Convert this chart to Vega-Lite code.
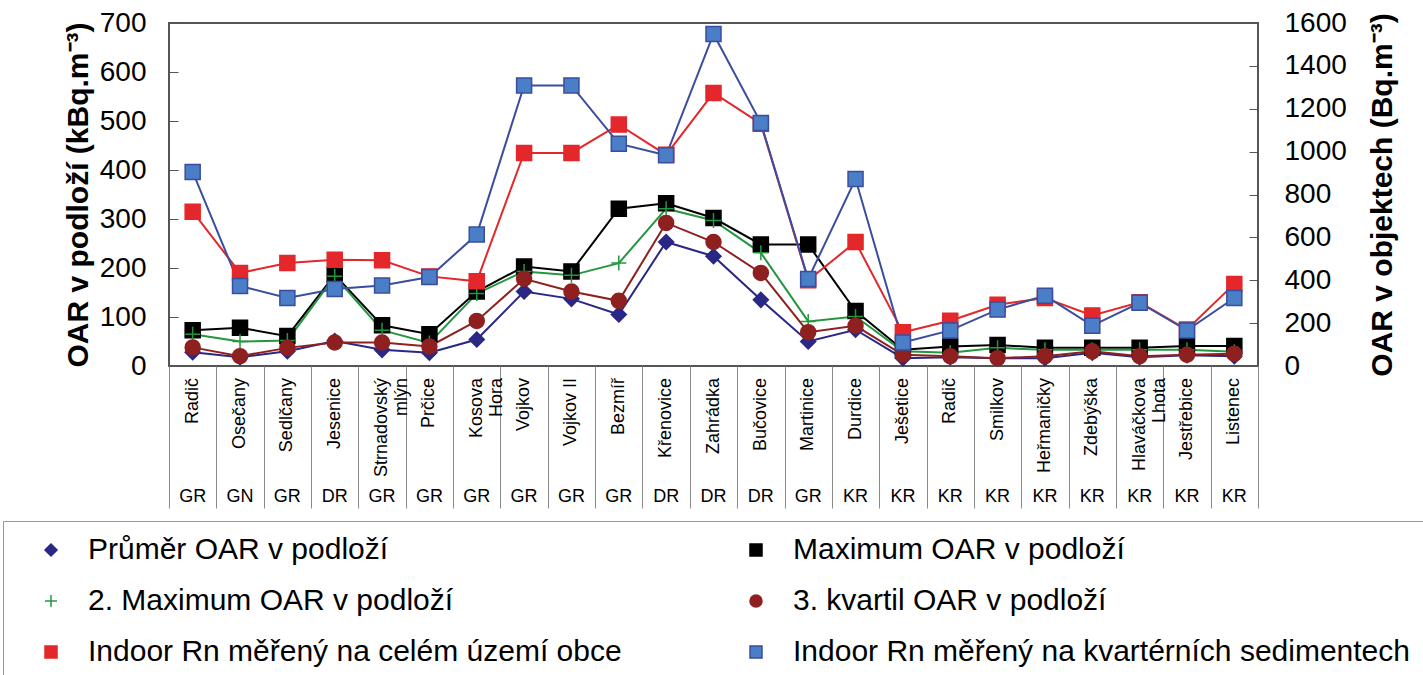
{
  "$schema": "https://vega.github.io/schema/vega-lite/v6.json",
  "background": "white",
  "padding": {"left": 2, "top": 8, "right": 2, "bottom": 0},
  "config": {
    "font": "Liberation Sans",
    "view": {"stroke": null},
    "axis": {"labelColor": "#000", "titleColor": "#000"},
    "legend": {"layout": {"bottom": {"anchor": "middle"}}}
  },
  "datasets": {
    "obce": [
      {"poradi": 1, "obec": "Radič", "hornina": "GR", "Průměr OAR v podloží": 28, "Maximum OAR v podloží": 73, "2. Maximum OAR v podloží": 65, "3. kvartil OAR v podloží": 38, "Indoor Rn měřený na celém území obce": 720, "Indoor Rn měřený na kvartérních sedimentech": 905},
      {"poradi": 2, "obec": "Osečany", "hornina": "GN", "Průměr OAR v podloží": 18, "Maximum OAR v podloží": 78, "2. Maximum OAR v podloží": 50, "3. kvartil OAR v podloží": 20, "Indoor Rn měřený na celém území obce": 434, "Indoor Rn měřený na kvartérních sedimentech": 373},
      {"poradi": 3, "obec": "Sedlčany", "hornina": "GR", "Průměr OAR v podloží": 30, "Maximum OAR v podloží": 61, "2. Maximum OAR v podloží": 52, "3. kvartil OAR v podloží": 37, "Indoor Rn měřený na celém území obce": 480, "Indoor Rn měřený na kvartérních sedimentech": 317},
      {"poradi": 4, "obec": "Jesenice", "hornina": "DR", "Průměr OAR v podloží": 51, "Maximum OAR v podloží": 186, "2. Maximum OAR v podloží": 183, "3. kvartil OAR v podloží": 48, "Indoor Rn měřený na celém území obce": 496, "Indoor Rn měřený na kvartérních sedimentech": 359},
      {"poradi": 5, "obec": "Strnadovský\nmlýn", "hornina": "GR", "Průměr OAR v podloží": 33, "Maximum OAR v podloží": 83, "2. Maximum OAR v podloží": 73, "3. kvartil OAR v podloží": 48, "Indoor Rn měřený na celém území obce": 493, "Indoor Rn měřený na kvartérních sedimentech": 376},
      {"poradi": 6, "obec": "Prčice", "hornina": "GR", "Průměr OAR v podloží": 27, "Maximum OAR v podloží": 65, "2. Maximum OAR v podloží": 47, "3. kvartil OAR v podloží": 40, "Indoor Rn měřený na celém území obce": 418, "Indoor Rn měřený na kvartérních sedimentech": 415},
      {"poradi": 7, "obec": "Kosova\nHora", "hornina": "GR", "Průměr OAR v podloží": 54, "Maximum OAR v podloží": 152, "2. Maximum OAR v podloží": 148, "3. kvartil OAR v podloží": 92, "Indoor Rn měřený na celém území obce": 395, "Indoor Rn měřený na kvartérních sedimentech": 613},
      {"poradi": 8, "obec": "Vojkov", "hornina": "GR", "Průměr OAR v podloží": 152, "Maximum OAR v podloží": 203, "2. Maximum OAR v podloží": 193, "3. kvartil OAR v podloží": 178, "Indoor Rn měřený na celém území obce": 994, "Indoor Rn měřený na kvartérních sedimentech": 1309},
      {"poradi": 9, "obec": "Vojkov II", "hornina": "GR", "Průměr OAR v podloží": 137, "Maximum OAR v podloží": 193, "2. Maximum OAR v podloží": 185, "3. kvartil OAR v podloží": 152, "Indoor Rn měřený na celém území obce": 994, "Indoor Rn měřený na kvartérních sedimentech": 1309},
      {"poradi": 10, "obec": "Bezmíř", "hornina": "GR", "Průměr OAR v podloží": 105, "Maximum OAR v podloží": 321, "2. Maximum OAR v podloží": 210, "3. kvartil OAR v podloží": 133, "Indoor Rn měřený na celém území obce": 1126, "Indoor Rn měřený na kvartérních sedimentech": 1037},
      {"poradi": 11, "obec": "Křenovice", "hornina": "DR", "Průměr OAR v podloží": 253, "Maximum OAR v podloží": 332, "2. Maximum OAR v podloží": 321, "3. kvartil OAR v podloží": 292, "Indoor Rn měřený na celém území obce": 985, "Indoor Rn měřený na kvartérních sedimentech": 983},
      {"poradi": 12, "obec": "Zahrádka", "hornina": "DR", "Průměr OAR v podloží": 224, "Maximum OAR v podloží": 302, "2. Maximum OAR v podloží": 297, "3. kvartil OAR v podloží": 253, "Indoor Rn měřený na celém území obce": 1274, "Indoor Rn měřený na kvartérních sedimentech": 1549},
      {"poradi": 13, "obec": "Bučovice", "hornina": "DR", "Průměr OAR v podloží": 135, "Maximum OAR v podloží": 248, "2. Maximum OAR v podloží": 231, "3. kvartil OAR v podloží": 190, "Indoor Rn měřený na celém území obce": 1130, "Indoor Rn měřený na kvartérních sedimentech": 1134},
      {"poradi": 14, "obec": "Martinice", "hornina": "GR", "Průměr OAR v podloží": 50, "Maximum OAR v podloží": 248, "2. Maximum OAR v podloží": 91, "3. kvartil OAR v podloží": 69, "Indoor Rn měřený na celém území obce": 400, "Indoor Rn měřený na kvartérních sedimentech": 406},
      {"poradi": 15, "obec": "Durdice", "hornina": "KR", "Průměr OAR v podloží": 74, "Maximum OAR v podloží": 112, "2. Maximum OAR v podloží": 101, "3. kvartil OAR v podloží": 82, "Indoor Rn měřený na celém území obce": 578, "Indoor Rn měřený na kvartérních sedimentech": 872},
      {"poradi": 16, "obec": "Ješetice", "hornina": "KR", "Průměr OAR v podloží": 16, "Maximum OAR v podloží": 33, "2. Maximum OAR v podloží": 30, "3. kvartil OAR v podloží": 23, "Indoor Rn měřený na celém území obce": 157, "Indoor Rn měřený na kvartérních sedimentech": 110},
      {"poradi": 17, "obec": "Radič", "hornina": "KR", "Průměr OAR v podloží": 18, "Maximum OAR v podloží": 40, "2. Maximum OAR v podloží": 27, "3. kvartil OAR v podloží": 20, "Indoor Rn měřený na celém území obce": 211, "Indoor Rn měřený na kvartérních sedimentech": 166},
      {"poradi": 18, "obec": "Smilkov", "hornina": "KR", "Průměr OAR v podloží": 16, "Maximum OAR v podloží": 43, "2. Maximum OAR v podloží": 37, "3. kvartil OAR v podloží": 16, "Indoor Rn měřený na celém území obce": 286, "Indoor Rn měřený na kvartérních sedimentech": 263},
      {"poradi": 19, "obec": "Heřmaničky", "hornina": "KR", "Průměr OAR v podloží": 16, "Maximum OAR v podloží": 37, "2. Maximum OAR v podloží": 33, "3. kvartil OAR v podloží": 20, "Indoor Rn měřený na celém území obce": 317, "Indoor Rn měřený na kvartérních sedimentech": 328},
      {"poradi": 20, "obec": "Zdebýška", "hornina": "KR", "Průměr OAR v podloží": 27, "Maximum OAR v podloží": 37, "2. Maximum OAR v podloží": 33, "3. kvartil OAR v podloží": 30, "Indoor Rn měřený na celém území obce": 236, "Indoor Rn měřený na kvartérních sedimentech": 188},
      {"poradi": 21, "obec": "Hlaváčkova\nLhota", "hornina": "KR", "Průměr OAR v podloží": 18, "Maximum OAR v podloží": 37, "2. Maximum OAR v podloží": 33, "3. kvartil OAR v podloží": 20, "Indoor Rn měřený na celém území obce": 297, "Indoor Rn měřený na kvartérních sedimentech": 295},
      {"poradi": 22, "obec": "Jestřebice", "hornina": "KR", "Průměr OAR v podloží": 22, "Maximum OAR v podloží": 41, "2. Maximum OAR v podloží": 33, "3. kvartil OAR v podloží": 23, "Indoor Rn měřený na celém území obce": 170, "Indoor Rn měřený na kvartérních sedimentech": 166},
      {"poradi": 23, "obec": "Listenec", "hornina": "KR", "Průměr OAR v podloží": 20, "Maximum OAR v podloží": 41, "2. Maximum OAR v podloží": 29, "3. kvartil OAR v podloží": 25, "Indoor Rn měřený na celém území obce": 383, "Indoor Rn měřený na kvartérních sedimentech": 317}
    ]
  },
  "data": {"name": "obce"},
  "spacing": 0,
  "bounds": "flush",
  "resolve": {
    "scale": {"shape": "shared", "fill": "shared", "stroke": "shared", "color": "shared"},
    "legend": {"shape": "shared", "fill": "shared", "stroke": "shared", "color": "shared"}
  },
  "vconcat": [
    {
      "width": 1089,
      "height": 343,
      "view": {"stroke": "#555", "strokeWidth": 2},
      "encoding": {
        "x": {"field": "poradi", "type": "ordinal", "axis": null, "scale": {"type": "point", "padding": 0.5}}
      },
      "layer": [
        {
          "transform": [{"fold": ["Průměr OAR v podloží", "Maximum OAR v podloží", "2\\. Maximum OAR v podloží", "3\\. kvartil OAR v podloží"], "as": ["rada", "hodnota"]}],
          "encoding": {
            "y": {"field": "hodnota", "type": "quantitative", "scale": {"domain": [0, 700], "nice": false},
              "axis": {"orient": "left", "values": [0, 100, 200, 300, 400, 500, 600, 700], "format": "d", "title": "OAR v podloží (kBq.m⁻³)", "titleFontSize": 30, "titleFontWeight": "bold", "titlePadding": 6, "labelFontSize": 28, "labelPadding": 32, "tickSize": -9, "tickColor": "#555", "domain": false, "grid": false, "labelFlush": false, "labelOverlap": false}}
          },
          "layer": [
            {
              "mark": {"type": "line", "strokeWidth": 2},
              "encoding": {
                "color": {"field": "rada", "type": "nominal", "legend": null,
                  "scale": {"domain": ["Indoor Rn měřený na kvartérních sedimentech", "Indoor Rn měřený na celém území obce", "3. kvartil OAR v podloží", "2. Maximum OAR v podloží", "Maximum OAR v podloží", "Průměr OAR v podloží"],
                    "range": ["#3a4d9e", "#e3272b", "#8f2020", "#24963f", "#000000", "#2b2785"]}}
              }
            },
            {
              "mark": {"type": "point", "filled": true, "size": 225, "strokeWidth": 1.5, "opacity": 1},
              "encoding": {
                "shape": {"field": "rada", "type": "nominal",
                  "scale": {"domain": ["Průměr OAR v podloží", "Maximum OAR v podloží", "2. Maximum OAR v podloží", "3. kvartil OAR v podloží", "Indoor Rn měřený na celém území obce", "Indoor Rn měřený na kvartérních sedimentech"],
                    "range": ["diamond", "square", "M-1,0H1M0,-1V1", "circle", "square", "square"]},
                  "legend": {"title": null, "orient": "bottom", "columns": 2, "direction": "horizontal", "labelFont": "Liberation Sans", "labelFontSize": 30, "labelColor": "#000", "labelLimit": 1000, "symbolSize": 144, "symbolOffset": 19, "labelOffset": 22, "rowPadding": 21, "columnPadding": 100, "padding": 14, "strokeColor": "#999", "fillColor": "white", "offset": 13,
                    "encode": {"symbols": {
                      "shape": {"value": {"expr": "['M-5.2,0H5.2M0,-1.1L0.9,0L0,1.1L-0.9,0Z', 'M-5.2,0H5.2M-1,-1H1V1H-1Z', 'M-5.2,0H5.2M0,-1.1V1.1', 'M-5.2,0H5.2M-1,0A1,1,0,1,0,1,0A1,1,0,1,0,-1,0Z', 'M-5.2,0H5.2M-1,-1H1V1H-1Z', 'M-5.2,0H5.2M-1,-1H1V1H-1Z'][indexof(domain('shape'), datum.value)]"}},
                      "strokeWidth": {"value": 2},
                      "size": {"value": 144},
                      "opacity": {"value": 1}
                    }}}},
                "fill": {"field": "rada", "type": "nominal",
                  "scale": {"domain": ["Průměr OAR v podloží", "Maximum OAR v podloží", "2. Maximum OAR v podloží", "3. kvartil OAR v podloží", "Indoor Rn měřený na celém území obce", "Indoor Rn měřený na kvartérních sedimentech"],
                    "range": ["#2b2785", "#000000", "transparent", "#8f2020", "#e3272b", "#4a7ec6"]},
                  "legend": {"title": null, "orient": "bottom", "columns": 2, "direction": "horizontal", "labelFont": "Liberation Sans", "labelFontSize": 30, "labelColor": "#000", "labelLimit": 1000, "symbolSize": 144, "symbolOffset": 19, "labelOffset": 22, "rowPadding": 21, "columnPadding": 100, "padding": 14, "strokeColor": "#999", "fillColor": "white", "offset": 13,
                    "encode": {"symbols": {
                      "shape": {"value": {"expr": "['M-5.2,0H5.2M0,-1.1L0.9,0L0,1.1L-0.9,0Z', 'M-5.2,0H5.2M-1,-1H1V1H-1Z', 'M-5.2,0H5.2M0,-1.1V1.1', 'M-5.2,0H5.2M-1,0A1,1,0,1,0,1,0A1,1,0,1,0,-1,0Z', 'M-5.2,0H5.2M-1,-1H1V1H-1Z', 'M-5.2,0H5.2M-1,-1H1V1H-1Z'][indexof(domain('shape'), datum.value)]"}},
                      "strokeWidth": {"value": 2},
                      "size": {"value": 144},
                      "opacity": {"value": 1}
                    }}}},
                "stroke": {"field": "rada", "type": "nominal",
                  "scale": {"domain": ["Průměr OAR v podloží", "Maximum OAR v podloží", "2. Maximum OAR v podloží", "3. kvartil OAR v podloží", "Indoor Rn měřený na celém území obce", "Indoor Rn měřený na kvartérních sedimentech"],
                    "range": ["#2b2785", "#000000", "#24963f", "#8f2020", "#e3272b", "#3a4d9e"]},
                  "legend": {"title": null, "orient": "bottom", "columns": 2, "direction": "horizontal", "labelFont": "Liberation Sans", "labelFontSize": 30, "labelColor": "#000", "labelLimit": 1000, "symbolSize": 144, "symbolOffset": 19, "labelOffset": 22, "rowPadding": 21, "columnPadding": 100, "padding": 14, "strokeColor": "#999", "fillColor": "white", "offset": 13,
                    "encode": {"symbols": {
                      "shape": {"value": {"expr": "['M-5.2,0H5.2M0,-1.1L0.9,0L0,1.1L-0.9,0Z', 'M-5.2,0H5.2M-1,-1H1V1H-1Z', 'M-5.2,0H5.2M0,-1.1V1.1', 'M-5.2,0H5.2M-1,0A1,1,0,1,0,1,0A1,1,0,1,0,-1,0Z', 'M-5.2,0H5.2M-1,-1H1V1H-1Z', 'M-5.2,0H5.2M-1,-1H1V1H-1Z'][indexof(domain('shape'), datum.value)]"}},
                      "strokeWidth": {"value": 2},
                      "size": {"value": 144},
                      "opacity": {"value": 1}
                    }}}}
              }
            }
          ]
        },
        {
          "transform": [{"fold": ["Indoor Rn měřený na celém území obce", "Indoor Rn měřený na kvartérních sedimentech"], "as": ["rada", "hodnota"]}],
          "encoding": {
            "y": {"field": "hodnota", "type": "quantitative", "scale": {"domain": [0, 1600], "nice": false},
              "axis": {"orient": "right", "values": [0, 200, 400, 600, 800, 1000, 1200, 1400, 1600], "format": "d", "title": "OAR v objektech (Bq.m⁻³)", "titleFontSize": 30, "titleFontWeight": "bold", "titleAngle": 270, "titleBaseline": "top", "titlePadding": 21, "labelFontSize": 28, "labelPadding": 35, "tickSize": -9, "tickColor": "#555", "domain": false, "grid": false, "labelFlush": false, "labelOverlap": false}}
          },
          "layer": [
            {
              "mark": {"type": "line", "strokeWidth": 2},
              "encoding": {
                "color": {"field": "rada", "type": "nominal", "legend": null,
                  "scale": {"domain": ["Indoor Rn měřený na kvartérních sedimentech", "Indoor Rn měřený na celém území obce", "3. kvartil OAR v podloží", "2. Maximum OAR v podloží", "Maximum OAR v podloží", "Průměr OAR v podloží"],
                    "range": ["#3a4d9e", "#e3272b", "#8f2020", "#24963f", "#000000", "#2b2785"]}}
              }
            },
            {
              "mark": {"type": "point", "filled": true, "size": 225, "strokeWidth": 1.5, "opacity": 1},
              "encoding": {
                "shape": {"field": "rada", "type": "nominal",
                  "scale": {"domain": ["Průměr OAR v podloží", "Maximum OAR v podloží", "2. Maximum OAR v podloží", "3. kvartil OAR v podloží", "Indoor Rn měřený na celém území obce", "Indoor Rn měřený na kvartérních sedimentech"],
                    "range": ["diamond", "square", "M-1,0H1M0,-1V1", "circle", "square", "square"]},
                  "legend": {"title": null, "orient": "bottom", "columns": 2, "direction": "horizontal", "labelFont": "Liberation Sans", "labelFontSize": 30, "labelColor": "#000", "labelLimit": 1000, "symbolSize": 144, "symbolOffset": 19, "labelOffset": 22, "rowPadding": 21, "columnPadding": 100, "padding": 14, "strokeColor": "#999", "fillColor": "white", "offset": 13,
                    "encode": {"symbols": {
                      "shape": {"value": {"expr": "['M-5.2,0H5.2M0,-1.1L0.9,0L0,1.1L-0.9,0Z', 'M-5.2,0H5.2M-1,-1H1V1H-1Z', 'M-5.2,0H5.2M0,-1.1V1.1', 'M-5.2,0H5.2M-1,0A1,1,0,1,0,1,0A1,1,0,1,0,-1,0Z', 'M-5.2,0H5.2M-1,-1H1V1H-1Z', 'M-5.2,0H5.2M-1,-1H1V1H-1Z'][indexof(domain('shape'), datum.value)]"}},
                      "strokeWidth": {"value": 2},
                      "size": {"value": 144},
                      "opacity": {"value": 1}
                    }}}},
                "fill": {"field": "rada", "type": "nominal",
                  "scale": {"domain": ["Průměr OAR v podloží", "Maximum OAR v podloží", "2. Maximum OAR v podloží", "3. kvartil OAR v podloží", "Indoor Rn měřený na celém území obce", "Indoor Rn měřený na kvartérních sedimentech"],
                    "range": ["#2b2785", "#000000", "transparent", "#8f2020", "#e3272b", "#4a7ec6"]},
                  "legend": {"title": null, "orient": "bottom", "columns": 2, "direction": "horizontal", "labelFont": "Liberation Sans", "labelFontSize": 30, "labelColor": "#000", "labelLimit": 1000, "symbolSize": 144, "symbolOffset": 19, "labelOffset": 22, "rowPadding": 21, "columnPadding": 100, "padding": 14, "strokeColor": "#999", "fillColor": "white", "offset": 13,
                    "encode": {"symbols": {
                      "shape": {"value": {"expr": "['M-5.2,0H5.2M0,-1.1L0.9,0L0,1.1L-0.9,0Z', 'M-5.2,0H5.2M-1,-1H1V1H-1Z', 'M-5.2,0H5.2M0,-1.1V1.1', 'M-5.2,0H5.2M-1,0A1,1,0,1,0,1,0A1,1,0,1,0,-1,0Z', 'M-5.2,0H5.2M-1,-1H1V1H-1Z', 'M-5.2,0H5.2M-1,-1H1V1H-1Z'][indexof(domain('shape'), datum.value)]"}},
                      "strokeWidth": {"value": 2},
                      "size": {"value": 144},
                      "opacity": {"value": 1}
                    }}}},
                "stroke": {"field": "rada", "type": "nominal",
                  "scale": {"domain": ["Průměr OAR v podloží", "Maximum OAR v podloží", "2. Maximum OAR v podloží", "3. kvartil OAR v podloží", "Indoor Rn měřený na celém území obce", "Indoor Rn měřený na kvartérních sedimentech"],
                    "range": ["#2b2785", "#000000", "#24963f", "#8f2020", "#e3272b", "#3a4d9e"]},
                  "legend": {"title": null, "orient": "bottom", "columns": 2, "direction": "horizontal", "labelFont": "Liberation Sans", "labelFontSize": 30, "labelColor": "#000", "labelLimit": 1000, "symbolSize": 144, "symbolOffset": 19, "labelOffset": 22, "rowPadding": 21, "columnPadding": 100, "padding": 14, "strokeColor": "#999", "fillColor": "white", "offset": 13,
                    "encode": {"symbols": {
                      "shape": {"value": {"expr": "['M-5.2,0H5.2M0,-1.1L0.9,0L0,1.1L-0.9,0Z', 'M-5.2,0H5.2M-1,-1H1V1H-1Z', 'M-5.2,0H5.2M0,-1.1V1.1', 'M-5.2,0H5.2M-1,0A1,1,0,1,0,1,0A1,1,0,1,0,-1,0Z', 'M-5.2,0H5.2M-1,-1H1V1H-1Z', 'M-5.2,0H5.2M-1,-1H1V1H-1Z'][indexof(domain('shape'), datum.value)]"}},
                      "strokeWidth": {"value": 2},
                      "size": {"value": 144},
                      "opacity": {"value": 1}
                    }}}}
              }
            }
          ]
        }
      ],
      "resolve": {"scale": {"y": "independent"}}
    },
    {
      "width": 1089,
      "height": 142,
      "encoding": {
        "x": {"field": "poradi", "type": "ordinal", "scale": {"type": "band", "paddingInner": 0, "paddingOuter": 0},
          "axis": {"orient": "bottom", "grid": true, "tickBand": "extent", "labels": false, "ticks": false, "domain": false, "title": null, "gridColor": "#8a8a8a", "gridWidth": 1}}
      },
      "layer": [
        {
          "mark": {"type": "text", "angle": 270, "align": "right", "baseline": "middle", "fontSize": 18, "lineBreak": "\n", "lineHeight": 20, "color": "#000"},
          "encoding": {
            "text": {"field": "obec"},
            "y": {"datum": "obec", "type": "nominal", "bandPosition": 0.17, "scale": {"type": "band", "domain": ["obec", "hornina"], "paddingInner": 0, "paddingOuter": 0}, "axis": null}
          }
        },
        {
          "mark": {"type": "text", "align": "center", "baseline": "middle", "fontSize": 18, "color": "#000"},
          "encoding": {
            "text": {"field": "hornina"},
            "y": {"datum": "hornina", "type": "nominal", "bandPosition": 0.845, "axis": null}
          }
        }
      ]
    }
  ]
}
